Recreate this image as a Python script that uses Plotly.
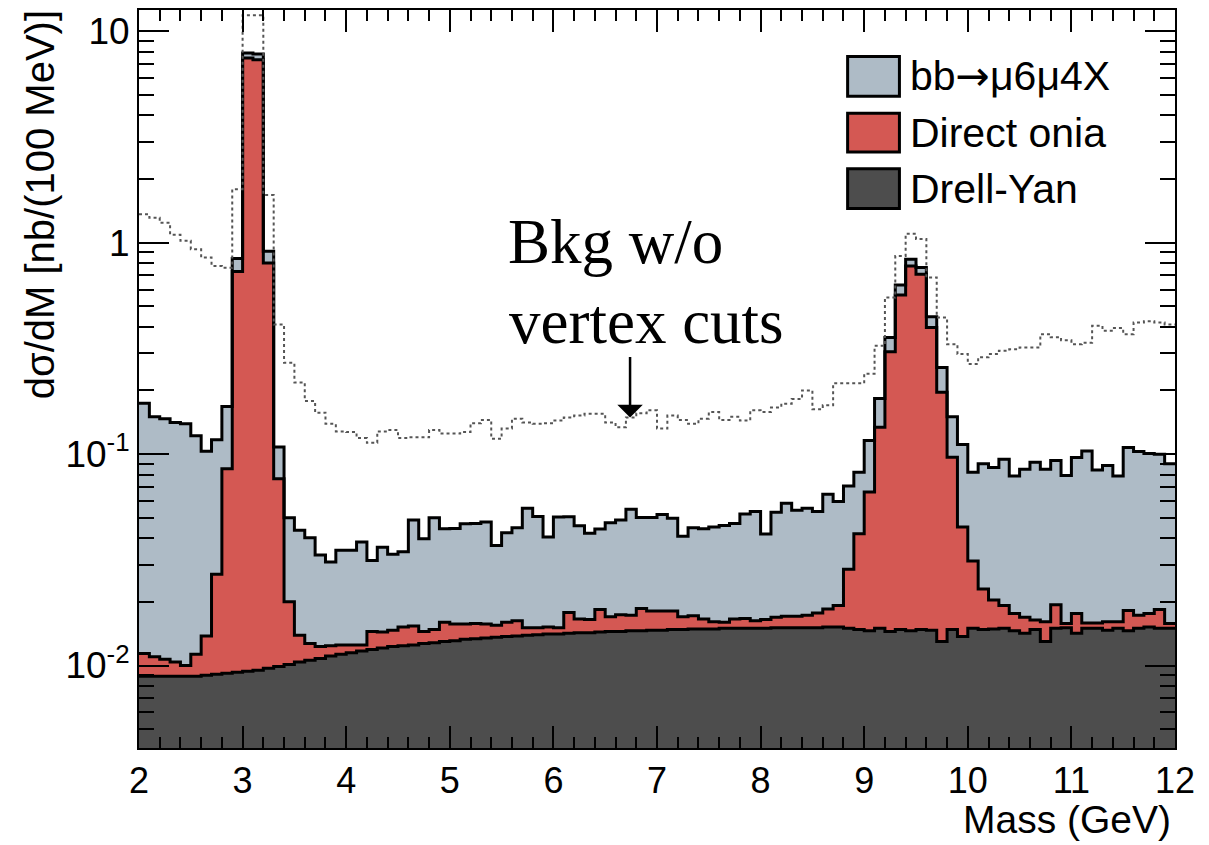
import numpy as np
import plotly.graph_objects as go

# ---- data: 100 MeV bins from 2 to 12 GeV (stack levels) ----
bin_edges = [round(2.0 + 0.1 * i, 1) for i in range(101)]

# Drell-Yan (bottom of stack)
drell_yan = [
    0.0089, 0.0089, 0.0089, 0.0089, 0.0089, 0.0089, 0.0090, 0.0091, 0.0092, 0.0093,
    0.0094, 0.0095, 0.0097, 0.0099, 0.0101, 0.0104, 0.0106, 0.0108, 0.0111, 0.0113,
    0.0115, 0.0117, 0.0119, 0.0121, 0.0123, 0.0124, 0.0125, 0.0127, 0.0128, 0.0130,
    0.0131, 0.0133, 0.0134, 0.0135, 0.0136, 0.0137, 0.0138, 0.0139, 0.0140, 0.0141,
    0.0141, 0.0142, 0.0143, 0.0143, 0.0144, 0.0145, 0.0145, 0.0146, 0.0146, 0.0147,
    0.0147, 0.0148, 0.0148, 0.0149, 0.0149, 0.0149, 0.0150, 0.0150, 0.0150, 0.0150,
    0.0150, 0.0151, 0.0151, 0.0151, 0.0151, 0.0151, 0.0152, 0.0152, 0.0150, 0.0148,
    0.0146, 0.0150, 0.0145, 0.0148, 0.0146, 0.0148, 0.0147, 0.0130, 0.0148, 0.0137,
    0.0150, 0.0148, 0.0149, 0.0150, 0.0146, 0.0142, 0.0148, 0.0130, 0.0150, 0.0151,
    0.0142, 0.0150, 0.0150, 0.0147, 0.0150, 0.0146, 0.0150, 0.0152, 0.0150, 0.0150,
]

# Drell-Yan + direct onia
dy_plus_onia = [
    0.0114, 0.0110, 0.0107, 0.0104, 0.0100, 0.0113, 0.0138, 0.0270, 0.0852, 0.73,
    7.46, 7.33, 0.80, 0.0764, 0.0200, 0.0139, 0.0127, 0.0123, 0.0124, 0.0125,
    0.0125, 0.0125, 0.0145, 0.0144, 0.0147, 0.0152, 0.0154, 0.0145, 0.0148, 0.0160,
    0.0157, 0.0157, 0.0158, 0.0157, 0.0155, 0.0160, 0.0163, 0.0151, 0.0151, 0.0152,
    0.0151, 0.0178, 0.0166, 0.0165, 0.0184, 0.0170, 0.0174, 0.0173, 0.0186, 0.0181,
    0.0181, 0.0181, 0.0170, 0.0172, 0.0166, 0.0161, 0.0160, 0.0166, 0.0167, 0.0163,
    0.0165, 0.0169, 0.0171, 0.0171, 0.0173, 0.0177, 0.0185, 0.0192, 0.0285, 0.0420,
    0.0661, 0.134, 0.305, 0.565, 0.776, 0.709, 0.397, 0.196, 0.0967, 0.0452,
    0.0312, 0.0230, 0.0204, 0.0192, 0.0176, 0.0169, 0.0164, 0.0161, 0.0194, 0.0158,
    0.0176, 0.0159, 0.0159, 0.0161, 0.0161, 0.0182, 0.0173, 0.0176, 0.0184, 0.0158,
]

# Drell-Yan + direct onia + bb -> mu6 mu4 X (total)
total_with_bb = [
    0.174, 0.150, 0.147, 0.141, 0.139, 0.122, 0.103, 0.117, 0.168, 0.84,
    7.88, 7.80, 0.91, 0.108, 0.0500, 0.0436, 0.0402, 0.0333, 0.0309, 0.0351,
    0.0351, 0.0384, 0.0314, 0.0363, 0.0336, 0.0345, 0.0488, 0.0398, 0.0500, 0.0443,
    0.0445, 0.0468, 0.0470, 0.0477, 0.0370, 0.0425, 0.0448, 0.0555, 0.0507, 0.0405,
    0.0504, 0.0505, 0.0458, 0.0422, 0.0442, 0.0473, 0.0488, 0.0549, 0.0501, 0.0501,
    0.0518, 0.0497, 0.0409, 0.0448, 0.0444, 0.0452, 0.0460, 0.0469, 0.0520, 0.0535,
    0.0419, 0.0530, 0.0585, 0.0542, 0.0555, 0.0535, 0.0645, 0.0596, 0.0707, 0.0821,
    0.116, 0.183, 0.356, 0.630, 0.834, 0.762, 0.446, 0.257, 0.150, 0.111,
    0.0820, 0.0899, 0.0865, 0.0946, 0.0787, 0.0848, 0.0915, 0.0848, 0.0932, 0.0792,
    0.0963, 0.1035, 0.0840, 0.0883, 0.0787, 0.1075, 0.1028, 0.1007, 0.0998, 0.0899,
]

# Total background without vertex cuts (dotted)
bkg_no_vertex_cuts = [
    1.36, 1.31, 1.24, 1.09, 1.02, 0.93, 0.85, 0.776, 0.76, 1.79,
    11.9, 11.9, 1.68, 0.41, 0.27, 0.218, 0.178, 0.157, 0.139, 0.128,
    0.127, 0.119, 0.113, 0.128, 0.130, 0.119, 0.120, 0.120, 0.130, 0.125,
    0.125, 0.127, 0.140, 0.145, 0.118, 0.132, 0.147, 0.141, 0.139, 0.140,
    0.144, 0.149, 0.152, 0.155, 0.155, 0.141, 0.134, 0.149, 0.156, 0.161,
    0.132, 0.152, 0.145, 0.139, 0.147, 0.158, 0.145, 0.150, 0.144, 0.161,
    0.158, 0.166, 0.173, 0.182, 0.200, 0.163, 0.170, 0.216, 0.216, 0.216,
    0.240, 0.325, 0.55, 0.865, 1.10, 1.04, 0.684, 0.442, 0.331, 0.297,
    0.267, 0.287, 0.297, 0.308, 0.313, 0.319, 0.319, 0.369, 0.357, 0.345,
    0.331, 0.336, 0.404, 0.383, 0.395, 0.369, 0.419, 0.425, 0.419, 0.410,
]

series_names = ["bb<span style=\"font-family:'DejaVu Sans'\">\u2192</span>\u03bc6\u03bc4X",
                "Direct onia", "Drell-Yan"]
x_tick_values = list(range(2, 13))
y_tick_values = [0.01, 0.1, 1, 10]
y_tick_labels = ["10<sup>-2</sup>", "10<sup>-1</sup>", "1", "10"]

# ---- styling ----
C_BB = "#AEBBC6"
C_ONIA = "#D45853"
C_DY = "#4D4D4D"
FONT = "Liberation Sans, Arial, sans-serif"
SERIF = "Liberation Serif, Times New Roman, serif"


def steps(vals):
    # close the final bin on its right edge for the hv step shape
    return list(vals) + [vals[-1]]


fig = go.Figure()

# invisible floor below the axis range so the bottom fill reaches the frame
fig.add_trace(go.Scatter(x=bin_edges, y=[1e-4] * len(bin_edges), mode="lines",
                         line=dict(width=0, shape="hv"), hoverinfo="skip",
                         showlegend=False))
fig.add_trace(go.Scatter(x=bin_edges, y=steps(drell_yan), mode="lines",
                         line=dict(color="black", width=3, shape="hv"),
                         fill="tonexty", fillcolor=C_DY, name="Drell-Yan",
                         showlegend=False))
fig.add_trace(go.Scatter(x=bin_edges, y=steps(dy_plus_onia), mode="lines",
                         line=dict(color="black", width=3, shape="hv"),
                         fill="tonexty", fillcolor=C_ONIA, name="Direct onia",
                         showlegend=False))
fig.add_trace(go.Scatter(x=bin_edges, y=steps(total_with_bb), mode="lines",
                         line=dict(color="black", width=3, shape="hv"),
                         fill="tonexty", fillcolor=C_BB, name="bb->mu6mu4X",
                         showlegend=False))
fig.add_trace(go.Scatter(x=bin_edges, y=steps(bkg_no_vertex_cuts), mode="lines",
                         line=dict(color="#555555", width=2, shape="hv", dash="dot"),
                         name="Bkg w/o vertex cuts", showlegend=False))

minor_y = [k * 10.0 ** e for e in range(-3, 2) for k in range(2, 10)]

fig.update_layout(
    width=1209, height=845,
    margin=dict(l=139, r=34, t=8, b=97),
    paper_bgcolor="white", plot_bgcolor="white",
    font=dict(family=FONT, color="black"),
    showlegend=False,
    xaxis=dict(range=[2, 12], tickmode="array", tickvals=x_tick_values,
               ticks="inside", ticklen=22, tickwidth=2, tickcolor="black",
               minor=dict(ticks="inside", ticklen=11, tickwidth=2, dtick=0.2,
                          tickcolor="black", showgrid=False),
               showline=True, linecolor="black", linewidth=2, mirror="allticks",
               showgrid=False, zeroline=False,
               tickfont=dict(family=FONT, size=36, color="black")),
    yaxis=dict(type="log", range=[-2.39, 1.10], tickmode="array",
               tickvals=y_tick_values, ticktext=y_tick_labels,
               ticks="inside", ticklen=30, tickwidth=2, tickcolor="black",
               minor=dict(ticks="inside", ticklen=15, tickwidth=2,
                          tickmode="array", tickvals=minor_y,
                          tickcolor="black", showgrid=False),
               showline=True, linecolor="black", linewidth=2, mirror="allticks",
               showgrid=False, zeroline=False,
               tickfont=dict(family=FONT, size=37, color="black")),
)

# axis titles
fig.add_annotation(text="Mass (GeV)", xref="paper", yref="paper",
                   x=0.998, y=-0.097, xanchor="right", yanchor="middle",
                   showarrow=False, font=dict(family=FONT, size=39))
fig.add_annotation(text="d\u03c3/dM [nb/(100 MeV)]", xref="paper", yref="paper",
                   x=-0.0956, y=1.003, xanchor="center", yanchor="top",
                   textangle=-90, showarrow=False, font=dict(family=FONT, size=40))

# legend drawn as boxes + labels (ROOT style)
legend_rows = [(0.937, 0.883, 0.910, C_BB, series_names[0]),
               (0.860, 0.8075, 0.834, C_ONIA, series_names[1]),
               (0.785, 0.731, 0.758, C_DY, series_names[2])]
for y1, y0, yc, col, lab in legend_rows:
    fig.add_shape(type="rect", xref="paper", yref="paper", x0=0.684, x1=0.734,
                  y0=y0, y1=y1, fillcolor=col, line=dict(color="black", width=3),
                  layer="above")
    fig.add_annotation(text=lab, xref="paper", yref="paper", x=0.742, y=yc,
                       xanchor="left", yanchor="middle", showarrow=False,
                       font=dict(family=FONT, size=41))

# "Bkg w/o vertex cuts" label and arrow
fig.add_annotation(text="Bkg w/o", xref="paper", yref="paper", x=0.354, y=0.6855,
                   xanchor="left", yanchor="middle", showarrow=False,
                   font=dict(family=SERIF, size=63))
fig.add_annotation(text="vertex cuts", xref="paper", yref="paper", x=0.3552, y=0.5773,
                   xanchor="left", yanchor="middle", showarrow=False,
                   font=dict(family=SERIF, size=63))
fig.add_annotation(text="", x=6.74, y=np.log10(0.1488), xref="x", yref="y",
                   showarrow=True, ax=0, ay=-62, arrowhead=1, arrowsize=1.7,
                   arrowwidth=2.5, arrowcolor="black")

fig.write_html("out.html", config={"displayModeBar": False},
               post_script="document.body.style.margin='0';document.body.style.padding='0';")
